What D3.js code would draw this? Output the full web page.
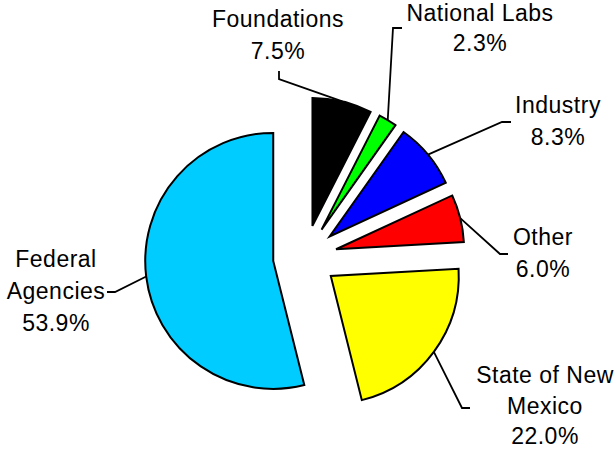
<!DOCTYPE html>
<html>
<head>
<meta charset="utf-8">
<script src="https://cdn.jsdelivr.net/npm/d3@7"></script>
<style>
  body { margin: 0; background: #fff; }
  .label text { font-family: "Liberation Sans", Arial, sans-serif; font-size: 23px; letter-spacing: 0.5px; fill: #000; }
  .leader { fill: none; stroke: #000; stroke-width: 1.8; }
</style>
</head>
<body>
<div id="chart"></div>
<script>
// Funding sources, clockwise from 12 o'clock
var categories = ["Foundations", "National Labs", "Industry", "Other", "State of New Mexico", "Federal Agencies"];
var shares     = [7.5, 2.3, 8.3, 6.0, 22.0, 53.9];
var labelRows  = [["Foundations"], ["National Labs"], ["Industry"], ["Other"], ["State of New", "Mexico"], ["Federal", "Agencies"]];
var colors     = ["#000000", "#00ff00", "#0000ff", "#ff0000", "#ffff00", "#00ccff"];

// Label placement (elbow of leader line, end of the short tick, first baseline of text block)
var labelLayout = [
  { elbow: [279, 79],  tick: [279, 71],  text: [278, 27],  gap: 32 },
  { elbow: [393, 28],  tick: [402, 28],  text: [480, 21],  gap: 30 },
  { elbow: [502, 122], tick: [511, 122], text: [558, 113], gap: 32 },
  { elbow: [500, 254], tick: [508, 254], text: [543, 245], gap: 32 },
  { elbow: [462, 408], tick: [470, 408], text: [545, 383], gap: 30.5 },
  { elbow: [115, 292], tick: [107, 292], text: [56, 267],  gap: 32 }
];

var width = 615, height = 449;
var cx = 305, cy = 257, radius = 128, explode = 32;

var svg = d3.select("#chart")
  .append("svg")
  .attr("width", width)
  .attr("height", height);

var pie = d3.pie().sort(null).value(function(d) { return d; });
var arcs = pie(shares);

var arc = d3.arc().innerRadius(0).outerRadius(radius);

function offset(d) {
  var a = (d.startAngle + d.endAngle) / 2;
  return [cx + explode * Math.sin(a), cy - explode * Math.cos(a)];
}

// Slices
svg.selectAll(".slice")
  .data(arcs)
  .enter().append("path")
  .attr("class", "slice")
  .attr("transform", function(d) { var o = offset(d); return "translate(" + o[0] + "," + o[1] + ")"; })
  .attr("d", arc)
  .attr("fill", function(d, i) { return colors[i]; })
  .attr("stroke", "#000")
  .attr("stroke-width", 2)
  .attr("stroke-linejoin", "miter");

// Leader lines: from arc midpoint to elbow, then short tick
svg.selectAll(".leader")
  .data(arcs)
  .enter().append("polyline")
  .attr("class", "leader")
  .attr("points", function(d, i) {
    var o = offset(d), a = (d.startAngle + d.endAngle) / 2;
    var p = [o[0] + radius * Math.sin(a), o[1] - radius * Math.cos(a)];
    var l = labelLayout[i];
    return [p, l.elbow, l.tick].map(function(q) { return q.join(","); }).join(" ");
  });

// Labels
var fmt = d3.format(".1f");
var labels = svg.selectAll(".label")
  .data(arcs)
  .enter().append("g")
  .attr("class", "label");

labels.append("text")
  .attr("text-anchor", "middle")
  .each(function(d, i) {
    var t = d3.select(this);
    var l = labelLayout[i];
    var rows = labelRows[i].concat([fmt(shares[i]) + "%"]);
    rows.forEach(function(r, k) {
      t.append("tspan")
        .attr("x", l.text[0])
        .attr("y", l.text[1] + k * l.gap)
        .text(r);
    });
  });
</script>
</body>
</html>
